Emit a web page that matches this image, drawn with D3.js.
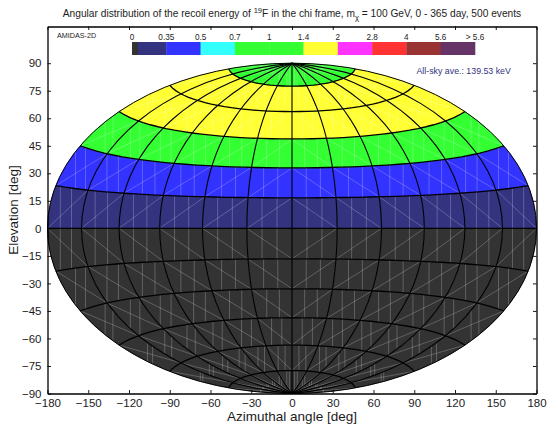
<!DOCTYPE html>
<html>
<head>
<meta charset="utf-8">
<script src="https://cdn.jsdelivr.net/npm/d3@7"></script>
<style>
html, body { margin: 0; padding: 0; background: #fff; }
svg { display: block; }
text { font-family: "Liberation Sans", Arial, sans-serif; fill: #1c1c1c; }
</style>
</head>
<body>
<div id="plot"></div>
<script>
// cell edges of the sky map, in degrees
const lonEdges = [-180, -150, -120, -90, -60, -30, 0, 30, 60, 90, 120, 150, 180];
const latEdges = [-90, -75, -60, -45, -30, -15, 0, 15, 30, 45, 60, 75, 90];

// relative recoil energy for each elevation band, south to north
const bandValues = [0, 0, 0, 0, 0, 0, 0.2, 0.42, 0.85, 1.7, 1.7, 1.2];

const lonTicks = [-180, -150, -120, -90, -60, -30, 0, 30, 60, 90, 120, 150, 180];
const latTicks = [-90, -75, -60, -45, -30, -15, 0, 15, 30, 45, 60, 75, 90];

// colour key
const keyLabels = ['0', '0.35', '0.5', '0.7', '1', '1.4', '2', '2.8', '4', '5.6', '> 5.6'];
const keyStops = [0.05, 0.35, 0.5, 0.7, 1, 1.4, 2, 2.8, 4, 5.6];
const keyColors = ['#333333', '#333380', '#3333ff', '#33ffff', '#33ff33', '#33ff33',
  '#ffff33', '#ff33ff', '#ff3333', '#993333', '#663366'];

const svgWidth = 549;
const svgHeight = 433;

const svg = d3.select('#plot').append('svg')
  .attr('width', svgWidth)
  .attr('height', svgHeight);

const xScale = d3.scaleLinear().domain([-180, 180]).range([47.5, 536.5]);
const yScale = d3.scaleLinear().domain([-90, 110]).range([393.5, 26.5]);
const colorScale = d3.scaleThreshold().domain(keyStops).range(keyColors);
const rad = Math.PI / 180;

// Hammer projection, scaled so the result reads in axis degrees
const hammer = (lon, lat) => {
  const d = Math.sqrt(1 + Math.cos(lat * rad) * Math.cos(lon * rad / 2));
  return [
    xScale(180 * Math.cos(lat * rad) * Math.sin(lon * rad / 2) / d),
    yScale(90 * Math.sin(lat * rad) / d)
  ];
};

const line = d3.line();

const parallel = (lat, lon0, lon1) => d3.range(0, 41).map((i) => hammer(lon0 + (lon1 - lon0) * i / 40, lat));
const meridian = (lon, lat0, lat1) => d3.range(0, 41).map((i) => hammer(lon, lat0 + (lat1 - lat0) * i / 40));

// cells
const cells = [];
bandValues.forEach((value, j) => {
  d3.range(lonEdges.length - 1).forEach((i) => {
    cells.push({
      id: `cell-${i}-${j}`,
      value: value,
      lon0: lonEdges[i],
      lon1: lonEdges[i + 1],
      lat0: latEdges[j],
      lat1: latEdges[j + 1]
    });
  });
});

const cellRing = (c) => [
  ...parallel(c.lat0, c.lon0, c.lon1),
  ...meridian(c.lon1, c.lat0, c.lat1),
  ...parallel(c.lat1, c.lon1, c.lon0),
  ...meridian(c.lon0, c.lat1, c.lat0)
];

const defs = svg.append('defs');
defs.selectAll('clipPath')
  .data(cells)
  .enter()
  .append('clipPath')
  .attr('id', (c) => c.id)
  .append('path')
  .attr('d', (c) => line(cellRing(c)) + 'Z');

svg.append('g')
  .selectAll('path')
  .data(cells)
  .enter()
  .append('path')
  .attr('d', (c) => line(cellRing(c)) + 'Z')
  .attr('fill', (c) => colorScale(c.value))
  .attr('stroke', (c) => colorScale(c.value))
  .attr('stroke-width', 0.4);

// thin light seams of the filled surface
const seams = svg.append('g')
  .attr('stroke', '#fff')
  .attr('stroke-width', 0.7)
  .attr('stroke-opacity', 0.32)
  .attr('fill', 'none');

cells.forEach((c) => {
  const g = seams.append('g').attr('clip-path', `url(#${c.id})`);
  const latMid = (c.lat0 + c.lat1) / 2;

  [1 / 3, 2 / 3].forEach((f) => {
    const x = hammer(c.lon0 + (c.lon1 - c.lon0) * f, latMid)[0];
    g.append('line')
      .attr('x1', x).attr('x2', x)
      .attr('y1', yScale(90)).attr('y2', yScale(-90));
  });

  // the diagonal runs from the corner nearest the equator limb to the polar one
  const outerLon = c.lon1 <= 0 ? c.lon0 : c.lon1;
  const innerLon = c.lon1 <= 0 ? c.lon1 : c.lon0;
  const outerLat = c.lat1 <= 0 ? c.lat1 : c.lat0;
  const innerLat = c.lat1 <= 0 ? c.lat0 : c.lat1;
  const a = hammer(outerLon, outerLat);
  const b = hammer(innerLon, innerLat);
  g.append('line')
    .attr('x1', a[0]).attr('y1', a[1])
    .attr('x2', b[0]).attr('y2', b[1]);
});

// grid lines
const grid = svg.append('g')
  .attr('fill', 'none')
  .attr('stroke', '#000');

latEdges.slice(1, -1).forEach((lat) => {
  grid.append('path')
    .attr('d', line(parallel(lat, -180, 180)))
    .attr('stroke-width', 1.3);
});

lonEdges.slice(1, -1).forEach((lon) => {
  grid.append('path')
    .attr('d', line(meridian(lon, -90, 90)))
    .attr('stroke-width', 1.1);
});

[-180, 180].forEach((lon) => {
  grid.append('path')
    .attr('d', line(meridian(lon, -90, 90)))
    .attr('stroke-width', 1);
});

// axes, ticks point inwards and are mirrored
const tickLength = 3.5;

const styleAxis = (g) => {
  g.selectAll('.domain').attr('stroke', '#000').attr('stroke-width', 1.3);
  g.selectAll('.tick line').attr('stroke', '#000').attr('stroke-width', 0.9);
  g.selectAll('.tick text').attr('font-size', 11.5).attr('fill', '#1c1c1c')
    .attr('font-family', '"Liberation Sans", Arial, sans-serif');
};

svg.append('g')
  .attr('transform', `translate(0, ${yScale.range()[0]})`)
  .call(d3.axisBottom(xScale).tickValues(lonTicks).tickSize(-tickLength).tickSizeOuter(0).tickPadding(5).tickFormat(d3.format('d')))
  .call(styleAxis);

svg.append('g')
  .attr('transform', `translate(0, ${yScale.range()[1]})`)
  .call(d3.axisTop(xScale).tickValues(lonTicks).tickSize(-tickLength).tickSizeOuter(0).tickFormat(''))
  .call(styleAxis);

svg.append('g')
  .attr('transform', `translate(${xScale.range()[0]}, 0)`)
  .call(d3.axisLeft(yScale).tickValues(latTicks).tickSize(-tickLength).tickSizeOuter(0).tickPadding(6).tickFormat(d3.format('d')))
  .call(styleAxis);

svg.append('g')
  .attr('transform', `translate(${xScale.range()[1]}, 0)`)
  .call(d3.axisRight(yScale).tickValues(latTicks).tickSize(-tickLength).tickSizeOuter(0).tickFormat(''))
  .call(styleAxis);

// colour key
const keyScale = d3.scaleLinear().domain([0, keyLabels.length - 1]).range([132, 475]);
const keySliver = 0.175; // the 0 bin only takes a small part of the first box
const keyEdges = [0, keySliver, ...d3.range(1, keyLabels.length)];

const key = svg.append('g');

key.selectAll('rect')
  .data(keyColors)
  .enter()
  .append('rect')
  .attr('x', (d, i) => keyScale(keyEdges[i]))
  .attr('y', 42)
  .attr('width', (d, i) => keyScale(keyEdges[i + 1]) - keyScale(keyEdges[i]) + 0.3)
  .attr('height', 13)
  .attr('fill', (d) => d);

key.selectAll('text')
  .data(keyLabels)
  .enter()
  .append('text')
  .attr('x', (d, i) => keyScale(i))
  .attr('y', 39.5)
  .attr('text-anchor', 'middle')
  .attr('font-size', 8.2)
  .text((d) => d);

svg.append('text')
  .attr('x', 57)
  .attr('y', 37.5)
  .attr('font-size', 7.2)
  .text('AMIDAS-2D');

svg.append('text')
  .attr('x', 416.5)
  .attr('y', 74)
  .attr('font-size', 8.8)
  .style('fill', '#333380')
  .text('All-sky ave.: 139.53 keV');

// title
const title = svg.append('text')
  .attr('x', 292)
  .attr('y', 16.5)
  .attr('text-anchor', 'middle')
  .attr('font-size', 10.2);
title.append('tspan').text('Angular distribution of the recoil energy of ');
title.append('tspan').attr('dy', -4).attr('font-size', 7.6).text('19');
title.append('tspan').attr('dy', 4).text('F in the chi frame, m');
title.append('tspan').attr('dy', 3).attr('font-size', 7.6).text('χ');
title.append('tspan').attr('dy', -3).text(' = 100 GeV, 0 - 365 day, 500 events');

svg.append('text')
  .attr('x', 292)
  .attr('y', 421)
  .attr('text-anchor', 'middle')
  .attr('font-size', 13.5)
  .text('Azimuthal angle [deg]');

svg.append('text')
  .attr('transform', 'translate(18, 210) rotate(-90)')
  .attr('text-anchor', 'middle')
  .attr('font-size', 13.5)
  .text('Elevation [deg]');
</script>
</body>
</html>
